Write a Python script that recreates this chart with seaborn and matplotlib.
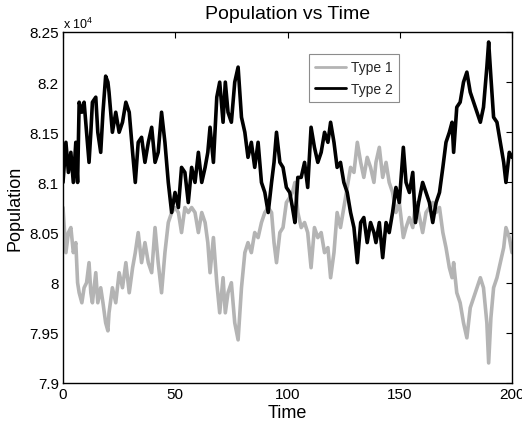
import numpy as np
import pandas as pd
import matplotlib
matplotlib.use("Agg")
import matplotlib.pyplot as plt
import seaborn as sns
from matplotlib.ticker import FixedLocator

# ---- data (population in units of 1e4) ----
time = [0, 1.3, 2.4, 3.5, 4.6, 5.7, 6.5, 7.2, 8.4, 9.4,
        10.5, 11.6, 12.4, 13.1, 14.6, 15.5, 16.8, 17.8, 19.0, 20.0,
        20.5, 22.0, 23.5, 25.0, 26.5, 28.0, 29.5, 31.0, 32.2, 33.5,
        35.0, 36.5, 38.0, 39.5, 41.0, 42.4, 43.9, 45.4, 46.9, 48.4,
        49.9, 51.4, 52.8, 54.3, 55.8, 57.3, 58.8, 60.3, 61.8, 63.3,
        64.5, 65.5, 67.0, 68.5, 69.8, 71.3, 72.3, 73.5, 75.0, 76.5,
        78.0, 79.5, 81.0, 82.4, 83.9, 85.4, 86.9, 88.4, 89.9, 91.4,
        92.9, 94.0, 95.1, 96.6, 98.0, 99.5, 101.0, 102.2, 103.3, 104.6,
        106.1, 107.6, 109.0, 110.5, 112.0, 113.5, 115.0, 116.5, 118.0, 119.2,
        120.7, 122.1, 123.6, 125.1, 126.6, 128.1, 129.6, 131.1, 132.6, 134.0,
        135.5, 137.0, 138.5, 139.4, 140.9, 142.4, 143.9, 145.3, 146.8, 148.3,
        149.8, 151.6, 152.8, 154.3, 155.8, 157.0, 158.4, 160.2, 161.7, 163.2,
        164.7, 166.2, 167.7, 169.2, 170.6, 172.1, 173.3, 174.0, 175.4, 176.9,
        178.4, 179.9, 181.4, 182.9, 184.4, 185.9, 187.3, 188.8, 189.6, 190.6,
        191.8, 193.3, 194.8, 196.3, 197.3, 198.8, 200.0]

type2 = [8.10, 8.14, 8.11, 8.13, 8.10, 8.14, 8.10, 8.18, 8.17, 8.18,
         8.15, 8.12, 8.15, 8.18, 8.185, 8.15, 8.13, 8.17, 8.206, 8.20,
         8.19, 8.15, 8.17, 8.15, 8.16, 8.18, 8.17, 8.13, 8.10, 8.14,
         8.145, 8.12, 8.14, 8.155, 8.12, 8.13, 8.17, 8.14, 8.10, 8.07,
         8.09, 8.075, 8.115, 8.11, 8.08, 8.115, 8.10, 8.13, 8.10, 8.115,
         8.13, 8.155, 8.12, 8.185, 8.20, 8.16, 8.20, 8.17, 8.16, 8.20,
         8.215, 8.165, 8.15, 8.125, 8.14, 8.115, 8.14, 8.10, 8.09, 8.07,
         8.10, 8.12, 8.15, 8.12, 8.115, 8.095, 8.09, 8.075, 8.06, 8.105,
         8.105, 8.12, 8.095, 8.155, 8.135, 8.12, 8.13, 8.15, 8.14, 8.16,
         8.14, 8.115, 8.12, 8.10, 8.09, 8.07, 8.055, 8.02, 8.06, 8.065,
         8.04, 8.06, 8.05, 8.04, 8.06, 8.025, 8.06, 8.05, 8.07, 8.095,
         8.08, 8.135, 8.10, 8.09, 8.11, 8.06, 8.08, 8.10, 8.09, 8.08,
         8.06, 8.08, 8.09, 8.115, 8.14, 8.15, 8.16, 8.13, 8.175, 8.18,
         8.20, 8.21, 8.19, 8.18, 8.17, 8.16, 8.175, 8.215, 8.24, 8.205,
         8.165, 8.16, 8.14, 8.12, 8.10, 8.13, 8.125]

type1 = [8.075, 8.03, 8.05, 8.055, 8.03, 8.04, 8.00, 7.99, 7.98, 7.995,
         8.00, 8.02, 7.99, 7.98, 8.01, 7.98, 7.995, 7.98, 7.96, 7.952,
         7.97, 7.995, 7.98, 8.01, 7.995, 8.02, 7.99, 8.015, 8.03, 8.05,
         8.02, 8.04, 8.02, 8.01, 8.055, 8.02, 7.99, 8.03, 8.06, 8.07,
         8.075, 8.07, 8.05, 8.075, 8.07, 8.075, 8.07, 8.05, 8.07, 8.06,
         8.04, 8.01, 8.045, 8.00, 7.97, 8.005, 7.97, 7.99, 8.00, 7.96,
         7.943, 7.995, 8.03, 8.04, 8.03, 8.05, 8.045, 8.06, 8.07, 8.075,
         8.07, 8.04, 8.02, 8.05, 8.055, 8.08, 8.085, 8.09, 8.10, 8.07,
         8.055, 8.06, 8.05, 8.015, 8.055, 8.045, 8.05, 8.03, 8.035, 8.005,
         8.03, 8.07, 8.055, 8.075, 8.095, 8.115, 8.11, 8.14, 8.12, 8.105,
         8.125, 8.115, 8.10, 8.12, 8.135, 8.105, 8.12, 8.10, 8.09, 8.07,
         8.08, 8.045, 8.055, 8.065, 8.055, 8.08, 8.07, 8.05, 8.07, 8.075,
         8.08, 8.07, 8.075, 8.05, 8.035, 8.015, 8.005, 8.02, 7.99, 7.98,
         7.96, 7.945, 7.975, 7.985, 7.995, 8.005, 7.995, 7.96, 7.92, 7.965,
         7.995, 8.005, 8.02, 8.035, 8.055, 8.045, 8.03]

series_names = ["Type 1", "Type 2"]
x_ticks = [0, 50, 100, 150, 200]
y_ticks = [7.9, 7.95, 8.0, 8.05, 8.1, 8.15, 8.2, 8.25]
y_tick_labels = ["7.9", "7.95", "8", "8.05", "8.1", "8.15", "8.2", "8.25"]

df = pd.concat([
    pd.DataFrame({"Time": time, "Population": np.array(type1) * 1e4, "Type": series_names[0]}),
    pd.DataFrame({"Time": time, "Population": np.array(type2) * 1e4, "Type": series_names[1]}),
], ignore_index=True)

# ---- style ----
sns.set_theme(style="white")
plt.rcParams["font.family"] = ["Liberation Sans", "DejaVu Sans"]
plt.rcParams["mathtext.default"] = "regular"

fig = plt.figure(figsize=(5.22, 4.35), dpi=100)
fig.subplots_adjust(left=63/522, right=512/522, top=1-33/435, bottom=1-384/435)
ax = fig.add_subplot(111)

sns.lineplot(data=df, x="Time", y="Population", hue="Type",
             palette={"Type 1": "#b4b4b4", "Type 2": "#000000"},
             linewidth=2.6, ax=ax, estimator=None, sort=False)

ax.set_xlim(0, 200)
ax.set_ylim(7.9e4, 8.25e4)
ax.xaxis.set_major_locator(FixedLocator(x_ticks))
ax.yaxis.set_major_locator(FixedLocator([v * 1e4 for v in y_ticks]))
ax.set_yticklabels(y_tick_labels)
ax.set_xticklabels([str(v) for v in x_ticks])

for s in ax.spines.values():
    s.set_color("black")
    s.set_linewidth(1.0)
    s.set_visible(True)

ax.tick_params(axis="both", which="major", direction="in", length=4, width=0.8,
               color="black", labelsize=11, labelcolor="black",
               top=True, right=True, pad=3)

ax.set_xlabel("Time", fontsize=13, color="black", labelpad=2)
ax.set_ylabel("Population", fontsize=13, color="black", labelpad=4)
ax.set_title("Population vs Time", fontsize=14, color="black", pad=10)

ax.text(0.0, 1.004, "x 10$^{4}$", transform=ax.transAxes, fontsize=9,
        ha="left", va="bottom", color="black")

handles, labels = ax.get_legend_handles_labels()
leg = ax.legend(handles=handles, labels=labels, loc="upper left",
                bbox_to_anchor=(0.548, 0.937), borderaxespad=0,
                fontsize=10, frameon=True, fancybox=False, framealpha=1,
                edgecolor="#8c8c8c", handlelength=2.2, handletextpad=0.35,
                labelspacing=0.55, borderpad=0.45)
leg.get_frame().set_linewidth(0.8)
for line in leg.get_lines():
    line.set_linewidth(2.0)

fig.savefig("out.png", dpi=100)
